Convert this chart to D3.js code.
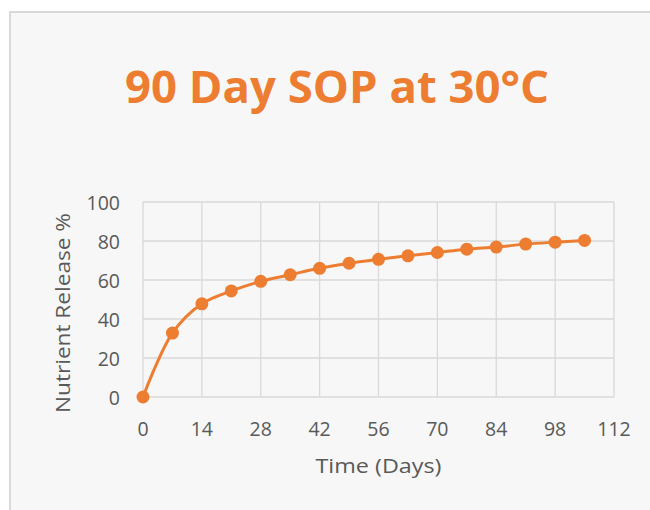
<!DOCTYPE html>
<html>
<head>
<meta charset="utf-8">
<script src="https://cdn.jsdelivr.net/npm/d3@7"></script>
<style>
  body { margin: 0; background: #ffffff; }
  text { font-family: "Open Sans", "Liberation Sans", sans-serif; }
</style>
</head>
<body>
<div id="vis"></div>
<script>
"use strict";
var days = [0, 7, 14, 21, 28, 35, 42, 49, 56, 63, 70, 77, 84, 91, 98, 105];
var release = [0, 32.8, 47.8, 54.4, 59.3, 62.7, 66, 68.6, 70.6, 72.4, 74.1, 75.8, 76.9, 78.4, 79.4, 80.3];
var xTicks = [0, 14, 28, 42, 56, 70, 84, 98, 112];
var yTicks = [0, 20, 40, 60, 80, 100];

var width = 650, height = 510;
var plot = { left: 143, right: 614, top: 202, bottom: 397 };
var orange = '#ed7d31';
var grey = '#595959';

var svg = d3.select('#vis')
    .append('svg')
    .attr('width', width)
    .attr('height', height);

// chart frame, runs off the right and bottom edge
svg.append('rect')
    .attr('x', 10)
    .attr('y', 12)
    .attr('width', width + 20)
    .attr('height', height + 20)
    .attr('fill', '#f7f7f7')
    .attr('stroke', '#d9d9d9')
    .attr('stroke-width', 2);

svg.append('text')
    .text('90 Day SOP at 30°C')
    .attr('x', 125)
    .attr('y', 103)
    .attr('fill', orange)
    .attr('font-size', 44)
    .attr('font-weight', 'bold')
    .attr('textLength', 424)
    .attr('lengthAdjust', 'spacingAndGlyphs');

var x = d3.scaleLinear()
    .domain([0, 112])
    .range([plot.left, plot.right]);
var y = d3.scaleLinear()
    .domain([0, 100])
    .range([plot.bottom, plot.top]);

svg.selectAll('.vgrid')
    .data(xTicks)
    .enter().append('line')
    .classed('vgrid', true)
    .attr('x1', x).attr('x2', x)
    .attr('y1', plot.top).attr('y2', plot.bottom)
    .attr('stroke', '#d9d9d9')
    .attr('stroke-width', 1.3);

svg.selectAll('.hgrid')
    .data(yTicks)
    .enter().append('line')
    .classed('hgrid', true)
    .attr('x1', plot.left).attr('x2', plot.right)
    .attr('y1', y).attr('y2', y)
    .attr('stroke', '#d9d9d9')
    .attr('stroke-width', 1.3);

svg.selectAll('.ylab')
    .data(yTicks)
    .enter().append('text')
    .classed('ylab', true)
    .text(String)
    .attr('x', 120)
    .attr('y', function (d) { return y(d); })
    .attr('text-anchor', 'end')
    .attr('dominant-baseline', 'central')
    .attr('fill', grey)
    .attr('font-size', 19.5);

svg.selectAll('.xlab')
    .data(xTicks)
    .enter().append('text')
    .classed('xlab', true)
    .text(String)
    .attr('x', x)
    .attr('y', 436)
    .attr('text-anchor', 'middle')
    .attr('fill', grey)
    .attr('font-size', 19.5);

svg.append('text')
    .text('Time (Days)')
    .attr('x', (plot.left + plot.right) / 2 - 63)
    .attr('y', 473)
    .attr('fill', grey)
    .attr('font-size', 20)
    .attr('textLength', 126)
    .attr('lengthAdjust', 'spacingAndGlyphs');

svg.append('text')
    .text('Nutrient Release %')
    .attr('transform', 'translate(70,413) rotate(-90)')
    .attr('fill', grey)
    .attr('font-size', 20)
    .attr('textLength', 200)
    .attr('lengthAdjust', 'spacingAndGlyphs');

var pts = days.map(function (d, i) { return [d, release[i]]; });

var line = d3.line()
    .x(function (p) { return x(p[0]); })
    .y(function (p) { return y(p[1]); })
    .curve(d3.curveCatmullRom.alpha(0.5));

svg.append('path')
    .datum(pts)
    .attr('d', line)
    .attr('fill', 'none')
    .attr('stroke', orange)
    .attr('stroke-width', 3);

svg.selectAll('.dot')
    .data(pts)
    .enter().append('circle')
    .classed('dot', true)
    .attr('cx', function (p) { return x(p[0]); })
    .attr('cy', function (p) { return y(p[1]); })
    .attr('r', 6.5)
    .attr('fill', orange);
</script>
</body>
</html>
